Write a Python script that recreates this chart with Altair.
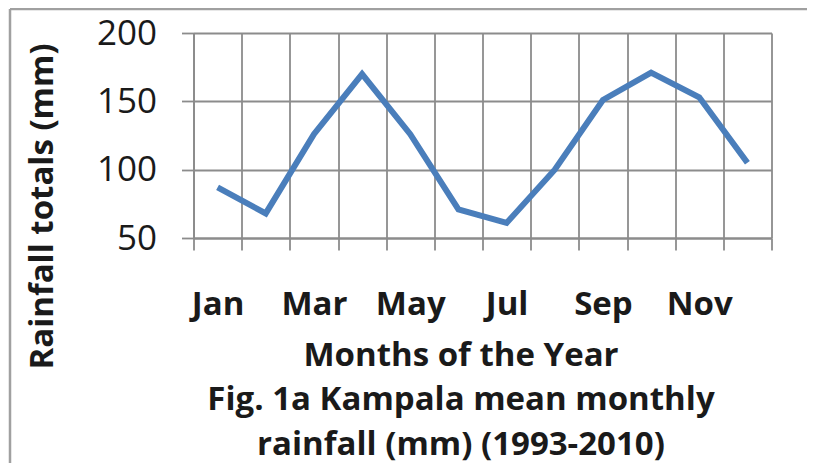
import altair as alt
import pandas as pd

months = ["Jan", "Feb", "Mar", "Apr", "May", "Jun", "Jul", "Aug", "Sep", "Oct", "Nov", "Dec"]
rainfall = [87, 68, 126, 170, 126, 71, 61, 100, 151, 171, 153, 105]
tick_labels = ["Jan", "Mar", "May", "Jul", "Sep", "Nov"]
y_ticks = [50, 100, 150, 200]

df = pd.DataFrame({"month": months, "rain": rainfall})

FONT = "Open Sans"
GRID = "#8c8c8c"
TXT = "#1a1a1a"
FRAME = "#a0a0a0"

one = alt.Data(values=[{"a": 1}])
frame_left = alt.Chart(one).mark_rule(color=FRAME, strokeWidth=2.5).encode(
    x=alt.value(-183.5), y=alt.value(-24), y2=alt.value(500)
)
frame_top = alt.Chart(one).mark_rule(color=FRAME, strokeWidth=2.5).encode(
    x=alt.value(-183.5), x2=alt.value(800), y=alt.value(-24)
)

label_list = "[" + ",".join("'%s'" % m for m in tick_labels) + "]"

line = alt.Chart(df).mark_line(color="#4a7ebb", strokeWidth=6).encode(
    x=alt.X(
        "month:N", sort=months,
        scale=alt.Scale(type="band", paddingInner=0, paddingOuter=0),
        axis=alt.Axis(
            labelExpr="indexof(%s, datum.label) >= 0 ? datum.label : ''" % label_list,
            labelAngle=0, labelFont=FONT, labelFontSize=33, labelFontWeight="bold",
            labelColor=TXT, labelBaseline="alphabetic", labelPadding=64,
            labelOverlap=False, labelBound=False,
            grid=True, tickBand="extent", ticks=True, tickSize=12,
            tickColor=GRID, tickWidth=1.8, gridColor=GRID, gridWidth=1.8,
            domainColor=GRID, domainWidth=1.8,
            title=["Months of the Year", "Fig. 1a Kampala mean monthly",
                   "rainfall (mm) (1993-2010)"],
            titleFont=FONT, titleFontSize=33, titleFontWeight="bold", titleColor=TXT,
            titleLineHeight=44.5, titleAlign="center", titleBaseline="alphabetic",
            titleX=267, titleY=127,
        ),
    ),
    y=alt.Y(
        "rain:Q",
        scale=alt.Scale(domain=[50, 200], nice=False, zero=False),
        axis=alt.Axis(
            values=y_ticks, grid=True, gridColor=GRID, gridWidth=1.8,
            tickSize=12, tickColor=GRID, tickWidth=1.8, domainColor=GRID, domainWidth=1.8,
            labelFont=FONT, labelFontSize=35, labelColor=TXT, labelPadding=25,
            title="Rainfall totals (mm)", titleFont=FONT, titleFontSize=33,
            titleFontWeight="bold", titleColor=TXT, titleAngle=270,
            titleAlign="center", titleBaseline="middle", titleX=-151.5, titleY=173,
        ),
    ),
)

chart = alt.layer(frame_left, frame_top, line).properties(
    width=578, height=205,
    autosize=alt.AutoSizeParams(type="none"),
    padding={"left": 185.5, "top": 25, "right": 35, "bottom": 225},
).configure_view(stroke=None).configure(background="white")

chart.save("out.html", embed_options={"renderer": "svg", "actions": False})
